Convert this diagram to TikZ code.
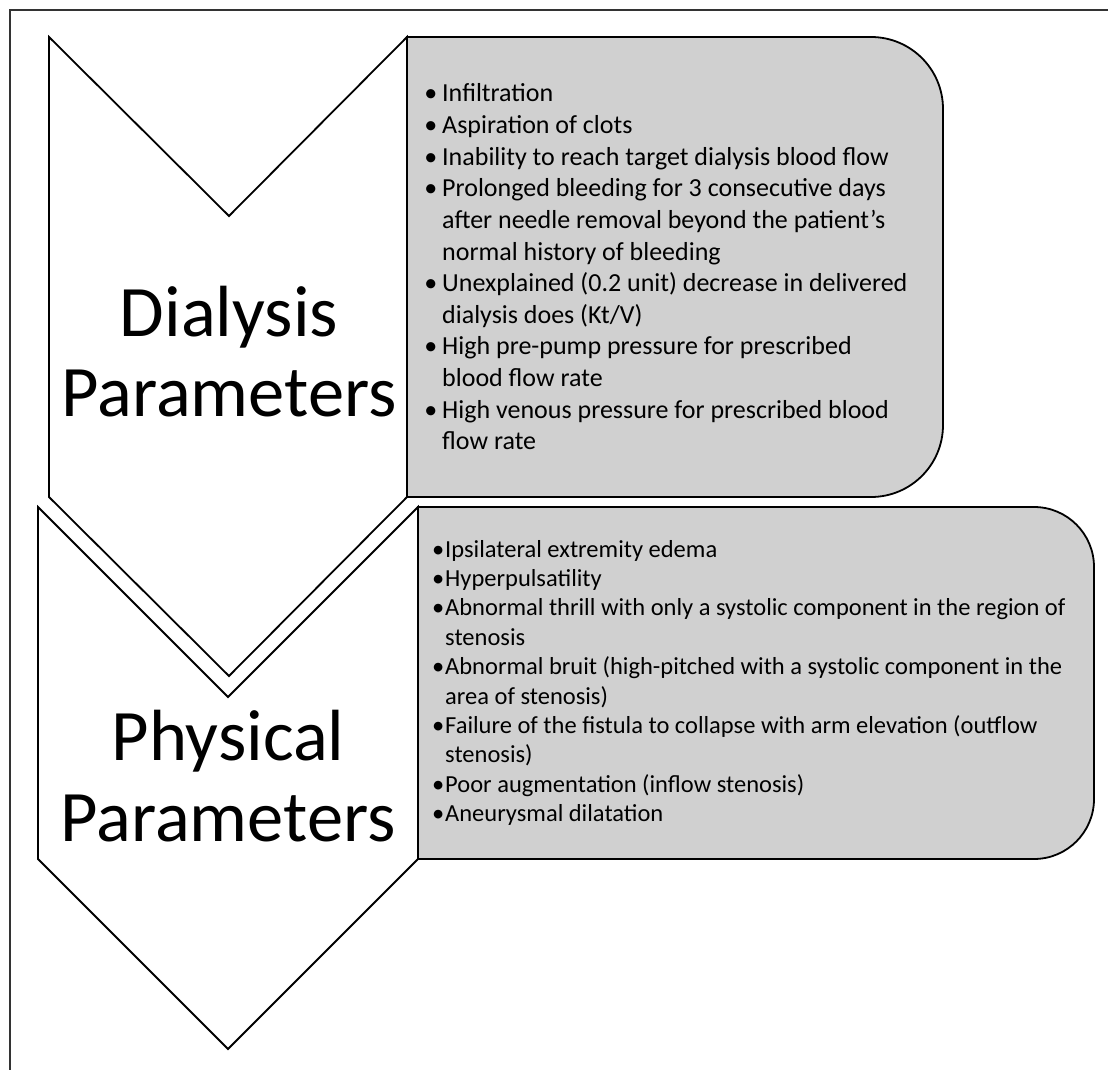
\documentclass[tikz,border=0pt]{standalone}
\usepackage{fontspec}
\setmainfont{Carlito}
\definecolor{boxgray}{RGB}{208,208,208}
\begin{document}
\begin{tikzpicture}[x=1pt,y=-1pt,
  shapeline/.style={draw=black,line width=1.8pt,line join=miter},
  boxfill/.style={shapeline,fill=boxgray},
  bigtxt/.style={font=\fontsize{72.5}{81}\selectfont,anchor=base,inner sep=0pt},
  txtA/.style={font=\fontsize{26}{31}\selectfont,anchor=base west,inner sep=0pt},
  txtB/.style={font=\fontsize{24.5}{29}\selectfont,anchor=base west,inner sep=0pt}]
\useasboundingbox (0,0) rectangle (1108,1070);
% frame
\draw[line width=1.3pt,color=black!80] (10,1070) -- (10,10) -- (1108,10);
% chevrons
\draw[shapeline] (49,37) -- (229,216) -- (407,37) -- (407,497) -- (229,676) -- (49,497) -- cycle;
\draw[shapeline] (38,507) -- (228,697) -- (418,507) -- (418,859) -- (228,1049) -- (38,859) -- cycle;
% boxes
\def\ra{72}\def\ka{39.8}
\draw[boxfill] (407,37) -- (943-\ra,37) .. controls (943-\ra+\ka,37) and (943,37+\ra-\ka) .. (943,37+\ra)
  -- (943,497-\ra) .. controls (943,497-\ra+\ka) and (943-\ra+\ka,497) .. (943-\ra,497) -- (407,497) -- cycle;
\def\rb{60}\def\kb{33.1}
\draw[boxfill] (418,507) -- (1094-\rb,507) .. controls (1094-\rb+\kb,507) and (1094,507+\rb-\kb) .. (1094,507+\rb)
  -- (1094,859-\rb) .. controls (1094,859-\rb+\kb) and (1094-\rb+\kb,859) .. (1094-\rb,859) -- (418,859) -- cycle;
% big labels
\node[bigtxt] (d1) at (229,336) {Dialysis};
\node[bigtxt] (d2) at (229,416) {Parameters};
\node[bigtxt] (p1) at (228,760) {Physical};
\node[bigtxt] (p2) at (228,841) {Parameters};
% box 1 text
\def\bA{\llap{•\hspace{5pt}}}
\node[txtA] (a1) at (442,102.0) {\bA Infiltration};
\node[txtA] (a2) at (442,133.6) {\bA Aspiration of clots};
\node[txtA] (a3) at (442,165.2) {\bA Inability to reach target dialysis blood flow};
\node[txtA] (a4) at (442,196.8) {\bA Prolonged bleeding for 3 consecutive days};
\node[txtA] (a5) at (442,228.4) {after needle removal beyond the patient’s};
\node[txtA] (a6) at (442,260.0) {normal history of bleeding};
\node[txtA] (a7) at (442,291.6) {\bA Unexplained (0.2 unit) decrease in delivered};
\node[txtA] (a8) at (442,323.2) {dialysis does (Kt/V)};
\node[txtA] (a9) at (442,354.8) {\bA High pre-pump pressure for prescribed};
\node[txtA] (a10) at (442,386.4) {blood flow rate};
\node[txtA] (a11) at (442,418.0) {\bA High venous pressure for prescribed blood};
\node[txtA] (a12) at (442,449.6) {flow rate};
% box 2 text
\def\bB{\llap{•\hspace{1pt}}}
\node[txtB] (b1) at (445,557.0) {\bB Ipsilateral extremity edema};
\node[txtB] (b2) at (445,586.4) {\bB Hyperpulsatility};
\node[txtB] (b3) at (445,615.8) {\bB Abnormal thrill with only a systolic component in the region of};
\node[txtB] (b4) at (445,645.2) {stenosis};
\node[txtB] (b5) at (445,674.6) {\bB Abnormal bruit (high-pitched with a systolic component in the};
\node[txtB] (b6) at (445,704.0) {area of stenosis)};
\node[txtB] (b7) at (445,733.4) {\bB Failure of the fistula to collapse with arm elevation (outflow};
\node[txtB] (b8) at (445,762.8) {stenosis)};
\node[txtB] (b9) at (445,792.2) {\bB Poor augmentation (inflow stenosis)};
\node[txtB] (b10) at (445,821.6) {\bB Aneurysmal dilatation};
\end{tikzpicture}
\end{document}
